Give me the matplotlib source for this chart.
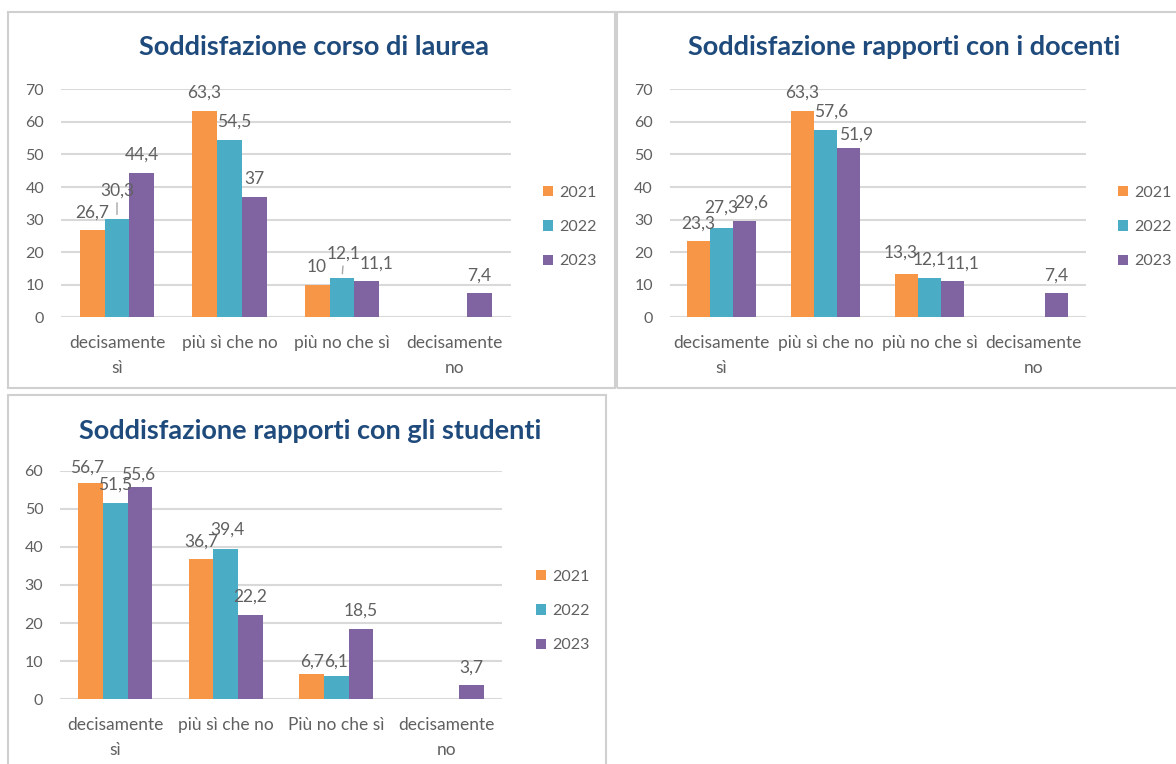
import numpy as np
import matplotlib
matplotlib.use("Agg")
import matplotlib.pyplot as plt
from matplotlib.patches import Rectangle, Patch

# ---------------- data ----------------
years = ["2021", "2022", "2023"]
categories_a = ["decisamente\nsì", "più sì che no", "più no che sì", "decisamente\nno"]
categories_b = ["decisamente\nsì", "più sì che no", "Più no che sì", "decisamente\nno"]

title_corso = "Soddisfazione corso di laurea"
corso_2021 = [26.7, 63.3, 10, np.nan]
corso_2022 = [30.3, 54.5, 12.1, np.nan]
corso_2023 = [44.4, 37, 11.1, 7.4]

title_docenti = "Soddisfazione rapporti con i docenti"
docenti_2021 = [23.3, 63.3, 13.3, np.nan]
docenti_2022 = [27.3, 57.6, 12.1, np.nan]
docenti_2023 = [29.6, 51.9, 11.1, 7.4]

title_studenti = "Soddisfazione rapporti con gli studenti"
studenti_2021 = [56.7, 36.7, 6.7, np.nan]
studenti_2022 = [51.5, 39.4, 6.1, np.nan]
studenti_2023 = [55.6, 22.2, 18.5, 3.7]

yticks_70 = [0, 10, 20, 30, 40, 50, 60, 70]
yticks_60 = [0, 10, 20, 30, 40, 50, 60]

# ---------------- style ----------------
W, H = 1176, 764
colors = ["#F79646", "#4BACC6", "#8064A2"]
gray_txt = "#606060"
grid_col = "#D9D9D9"
title_col = "#1F4A7C"
FONT = "Lato"
FS_TICK = 11.5
FS_CAT = 12.5
FS_LBL = 12.5
FS_LEG = 11.5
FS_TITLE = 19.5

plt.rcParams["font.family"] = [FONT, "DejaVu Sans"]

fig = plt.figure(figsize=(W / 100, H / 100), dpi=100)
fig.patch.set_facecolor("white")


def fx(x):
    return x / W


def fy(y):
    return 1 - y / H


def border(x0, y0, x1, y1):
    fig.patches.append(Rectangle((fx(x0), fy(y1)), fx(x1) - fx(x0), fy(y0) - fy(y1),
                                 transform=fig.transFigure, fill=False,
                                 edgecolor="#D0D0D0", lw=1.5, zorder=0))


def fmt(v):
    return ("%g" % v).replace(".", ",")


def panel(box, title, title_xy, cats, series, yticks, legend_xy, nudges, leaders):
    left, top, right, bottom = box
    ax = fig.add_axes([fx(left), fy(bottom), fx(right) - fx(left), fy(top) - fy(bottom)])
    n = len(cats)
    x = np.arange(n)
    bw = 0.222
    for i, vals in enumerate(series):
        ax.bar(x + (i - 1) * bw, vals, width=bw, color=colors[i], zorder=3, label=years[i])
        for j, v in enumerate(vals):
            if np.isnan(v):
                continue
            dx, dy = nudges.get((i, j), (0, 0))
            kw = {}
            if (i, j) in leaders:
                kw["arrowprops"] = dict(arrowstyle="-", color="#A6A6A6", lw=1,
                                        shrinkA=1, shrinkB=3)
            ax.annotate(fmt(v), xy=(x[j] + (i - 1) * bw, v),
                        xytext=(dx, 18 + dy), textcoords="offset pixels",
                        ha="center", va="center", fontsize=FS_LBL, color=gray_txt,
                        zorder=5, **kw)
    ax.set_xlim(-0.5, n - 0.5)
    ax.set_ylim(yticks[0], yticks[-1])
    ax.set_yticks(yticks)
    ax.set_xticks(x)
    ax.set_xticklabels(cats, linespacing=1.7, fontsize=FS_CAT)
    ax.tick_params(axis="both", length=0, labelcolor=gray_txt)
    ax.tick_params(axis="y", pad=12, labelsize=FS_TICK)
    ax.tick_params(axis="x", pad=13)
    ax.yaxis.grid(True, color=grid_col, lw=1.5, zorder=0)
    ax.set_axisbelow(True)
    for s in ax.spines.values():
        s.set_visible(False)
    ax.set_facecolor("none")
    fig.text(fx(title_xy[0]), fy(title_xy[1]), title, ha="center", va="center",
             fontsize=FS_TITLE, fontweight="bold", color=title_col)
    handles = [Patch(facecolor=colors[i], label=years[i]) for i in range(3)]
    leg = ax.legend(handles=handles, loc="center left",
                    bbox_to_anchor=(fx(legend_xy[0]), fy(legend_xy[1])),
                    bbox_transform=fig.transFigure, frameon=False,
                    handlelength=0.65, handleheight=0.65, handletextpad=0.35,
                    labelspacing=1.28, borderpad=0, borderaxespad=0,
                    fontsize=FS_LEG)
    for t in leg.get_texts():
        t.set_color(gray_txt)
    return ax


# panel borders
border(8, 12, 615, 388)
border(617, 12, 1185, 388)
border(8, 395, 606, 775)

panel((60.75, 89.3, 510.75, 317.3), title_corso, (314, 47), categories_a,
      [corso_2021, corso_2022, corso_2023], yticks_70, (543, 227),
      {(1, 0): (0, 10), (1, 1): (5, 0), (1, 2): (2, 6), (2, 2): (10, 0)},
      [(1, 0), (1, 2)])

panel((669.5, 89.3, 1085.5, 317.3), title_docenti, (904, 47), categories_a,
      [docenti_2021, docenti_2022, docenti_2023], yticks_70, (1118, 227),
      {(1, 0): (0, 3), (2, 0): (7, 0), (1, 1): (6, 0), (2, 1): (7, -4),
       (0, 2): (-6, 3), (2, 2): (10, 0)},
      [])

panel((60, 470.7, 502, 699.3), title_studenti, (310, 431), categories_b,
      [studenti_2021, studenti_2022, studenti_2023], yticks_60, (536, 611),
      {(0, 0): (-4, -2), (2, 0): (-2, -5), (1, 1): (2, 2), (0, 2): (0, -6),
       (1, 2): (0, -4)},
      [])

fig.savefig("out.png", dpi=100, facecolor="white")
